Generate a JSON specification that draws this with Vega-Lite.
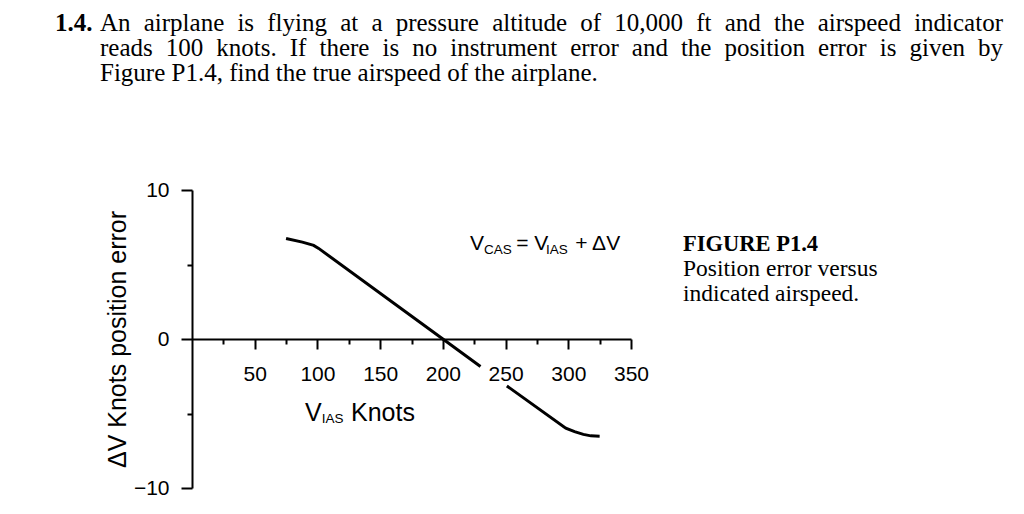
{
  "$schema": "https://vega.github.io/schema/vega-lite/v6.json",
  "width": 439,
  "height": 298,
  "autosize": {"type": "none"},
  "padding": {"left": 192, "top": 190, "right": 393, "bottom": 26},
  "background": "white",
  "config": {"view": {"stroke": null}, "font": "Liberation Sans"},
  "resolve": {"axis": {"x": "independent", "y": "independent"}},
  "layer": [
    {
      "data": {"values": [
        {"x": 75, "y": 6.75, "seg": 1},
        {"x": 88, "y": 6.5, "seg": 1},
        {"x": 97, "y": 6.28, "seg": 1},
        {"x": 101, "y": 6.08, "seg": 1},
        {"x": 200, "y": 0.0, "seg": 1},
        {"x": 230, "y": -1.85, "seg": 1},
        {"x": 251, "y": -3.15, "seg": 2},
        {"x": 298, "y": -5.98, "seg": 2},
        {"x": 305, "y": -6.22, "seg": 2},
        {"x": 312, "y": -6.4, "seg": 2},
        {"x": 318, "y": -6.5, "seg": 2},
        {"x": 325, "y": -6.52, "seg": 2}
      ]},
      "mark": {"type": "line", "color": "black", "strokeWidth": 3, "strokeCap": "butt"},
      "encoding": {
        "x": {
          "field": "x", "type": "quantitative",
          "scale": {"domain": [0, 350], "nice": false, "zero": false},
          "axis": {
            "orient": "bottom",
            "values": [50, 100, 150, 200, 250, 300, 350],
            "offset": -149,
            "grid": false,
            "title": null,
            "domainColor": "black", "domainWidth": 2,
            "tickColor": "black", "tickWidth": 2, "tickSize": 10,
            "labelFont": "Liberation Sans", "labelFontSize": 21, "labelColor": "black",
            "labelPadding": 14, "labelOverlap": false, "labelFlush": false
          }
        },
        "y": {
          "field": "y", "type": "quantitative",
          "scale": {"domain": [-10, 10], "nice": false, "zero": false},
          "axis": {
            "orient": "left",
            "values": [-10, 0, 10],
            "grid": false,
            "title": "ΔV Knots position error",
            "titleFont": "Liberation Sans", "titleFontSize": 25, "titleFontWeight": "normal", "titleColor": "black",
            "titlePadding": 3,
            "domainColor": "black", "domainWidth": 2,
            "tickColor": "black", "tickWidth": 2, "tickSize": 11,
            "labelFont": "Liberation Sans", "labelFontSize": 21, "labelColor": "black",
            "labelPadding": 12, "labelOverlap": false, "labelFlush": false
          }
        },
        "detail": {"field": "seg", "type": "nominal"}
      }
    },
    {
      "data": {"values": [
        {"x": 221.6, "y": 6.38, "t": "V"},
        {"x": 258.5, "y": 6.38, "t": "= V"},
        {"x": 305.5, "y": 6.38, "t": "+ ΔV"}
      ]},
      "mark": {"type": "text", "font": "Liberation Sans", "fontSize": 21, "align": "left", "baseline": "middle", "color": "black"},
      "encoding": {
        "x": {
          "field": "x", "type": "quantitative",
          "axis": {
            "orient": "bottom",
            "values": [25, 75, 125, 175, 225, 275, 325],
            "offset": -149, "grid": false, "title": null, "domain": false, "labels": false,
            "tickColor": "black", "tickWidth": 2, "tickSize": 5
          }
        },
        "y": {
          "field": "y", "type": "quantitative",
          "axis": {
            "orient": "left",
            "values": [-5, 5],
            "grid": false, "title": null, "domain": false, "labels": false,
            "tickColor": "black", "tickWidth": 2, "tickSize": 5
          }
        },
        "text": {"field": "t"}
      }
    },
    {
      "data": {"values": [
        {"x": -109.2, "y": 21.2, "t": "1.4."}
      ]},
      "mark": {"type": "text", "font": "Liberation Serif", "fontSize": 25, "fontWeight": "bold", "align": "left", "baseline": "middle", "color": "black"},
      "encoding": {
        "x": {"field": "x", "type": "quantitative", "axis": null},
        "y": {"field": "y", "type": "quantitative", "axis": null},
        "text": {"field": "t"}
      }
    },
    {
      "data": {"values": [
        {"x": -73.35, "y": 21.2, "t": "An"},
        {"x": -38.49, "y": 21.2, "t": "airplane"},
        {"x": 36.21, "y": 21.2, "t": "is"},
        {"x": 60.01, "y": 21.2, "t": "flying"},
        {"x": 118.13, "y": 21.2, "t": "at"},
        {"x": 143.02, "y": 21.2, "t": "a"},
        {"x": 162.37, "y": 21.2, "t": "pressure"},
        {"x": 239.28, "y": 21.2, "t": "altitude"},
        {"x": 309.58, "y": 21.2, "t": "of"},
        {"x": 336.69, "y": 21.2, "t": "10,000"},
        {"x": 401.99, "y": 21.2, "t": "ft"},
        {"x": 424.68, "y": 21.2, "t": "and"},
        {"x": 463.96, "y": 21.2, "t": "the"},
        {"x": 498.82, "y": 21.2, "t": "airspeed"},
        {"x": 575.73, "y": 21.2, "t": "indicator"},
        {"x": -73.35, "y": 19.53, "t": "reads"},
        {"x": -20.9, "y": 19.53, "t": "100"},
        {"x": 19.38, "y": 19.53, "t": "knots."},
        {"x": 77.95, "y": 19.53, "t": "If"},
        {"x": 101.61, "y": 19.53, "t": "there"},
        {"x": 151.85, "y": 19.53, "t": "is"},
        {"x": 175.53, "y": 19.53, "t": "no"},
        {"x": 205.85, "y": 19.53, "t": "instrument"},
        {"x": 301.51, "y": 19.53, "t": "error"},
        {"x": 350.63, "y": 19.53, "t": "and"},
        {"x": 389.8, "y": 19.53, "t": "the"},
        {"x": 424.54, "y": 19.53, "t": "position"},
        {"x": 499.18, "y": 19.53, "t": "error"},
        {"x": 548.3, "y": 19.53, "t": "is"},
        {"x": 571.99, "y": 19.53, "t": "given"},
        {"x": 626.66, "y": 19.53, "t": "by"},
        {"x": -73.35, "y": 17.85, "t": "Figure P1.4, find the true airspeed of the airplane."}
      ]},
      "mark": {"type": "text", "font": "Liberation Serif", "fontSize": 25, "align": "left", "baseline": "middle", "color": "black"},
      "encoding": {
        "x": {"field": "x", "type": "quantitative", "axis": null},
        "y": {"field": "y", "type": "quantitative", "axis": null},
        "text": {"field": "t"}
      }
    },
    {
      "data": {"values": [
        {"x": 391.5, "y": 6.38, "t": "FIGURE P1.4"}
      ]},
      "mark": {"type": "text", "font": "Liberation Serif", "fontSize": 22.5, "fontWeight": "bold", "align": "left", "baseline": "middle", "color": "black"},
      "encoding": {
        "x": {"field": "x", "type": "quantitative", "axis": null},
        "y": {"field": "y", "type": "quantitative", "axis": null},
        "text": {"field": "t"}
      }
    },
    {
      "data": {"values": [
        {"x": 391.5, "y": 4.7, "t": "Position error versus"},
        {"x": 391.5, "y": 3.02, "t": "indicated airspeed."}
      ]},
      "mark": {"type": "text", "font": "Liberation Serif", "fontSize": 23.5, "align": "left", "baseline": "middle", "color": "black"},
      "encoding": {
        "x": {"field": "x", "type": "quantitative", "axis": null},
        "y": {"field": "y", "type": "quantitative", "axis": null},
        "text": {"field": "t"}
      }
    },
    {
      "data": {"values": [
        {"x": 90.1, "y": -4.97, "t": "V"},
        {"x": 126.8, "y": -4.97, "t": "Knots"}
      ]},
      "mark": {"type": "text", "font": "Liberation Sans", "fontSize": 25, "align": "left", "baseline": "middle", "color": "black"},
      "encoding": {
        "x": {"field": "x", "type": "quantitative", "axis": null},
        "y": {"field": "y", "type": "quantitative", "axis": null},
        "text": {"field": "t"}
      }
    },
    {
      "data": {"values": [
        {"x": 232.8, "y": 6.38, "t": "CAS"},
        {"x": 282.2, "y": 6.38, "t": "IAS"},
        {"x": 103.5, "y": -4.97, "t": "IAS"}
      ]},
      "mark": {"type": "text", "font": "Liberation Sans", "fontSize": 13.5, "align": "left", "baseline": "middle", "dy": 6, "color": "black"},
      "encoding": {
        "x": {"field": "x", "type": "quantitative", "axis": null},
        "y": {"field": "y", "type": "quantitative", "axis": null},
        "text": {"field": "t"}
      }
    }
  ]
}
